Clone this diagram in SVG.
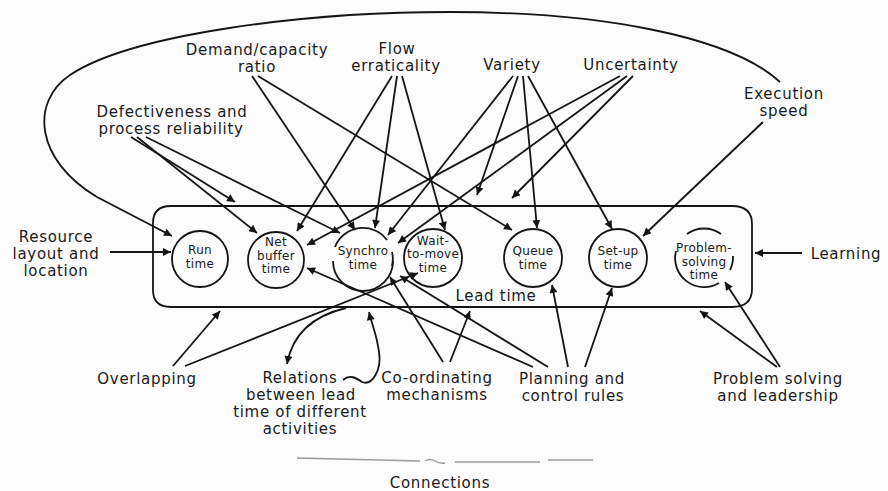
<svg xmlns="http://www.w3.org/2000/svg" width="888" height="491" viewBox="0 0 888 491">
  <defs>
    <marker id="ah" viewBox="0 0 10 10" refX="10" refY="5" markerWidth="9" markerHeight="8" markerUnits="userSpaceOnUse" orient="auto">
      <path d="M0,0 L10,5 L0,10 z" fill="#151515"/>
    </marker>
    <style>
      .lbl { font-family: "DejaVu Sans", "Liberation Sans", sans-serif; font-size: 15px; letter-spacing: 0.7px; fill: #1a1a1a; text-anchor: middle; }
      .sm { font-family: "DejaVu Sans", "Liberation Sans", sans-serif; font-size: 12px; letter-spacing: 0.3px; fill: #1a1a1a; text-anchor: middle; }
      .ring { fill: none; stroke: #151515; stroke-width: 1.8; }
      .edge { fill: none; stroke: #151515; stroke-width: 1.8; marker-end: url(#ah); }
    </style>
  </defs>
  <rect width="888" height="491" fill="#fcfcfc"/>

  <!-- lead time container -->
  <g id="lead-time">
    <path class="ring" d="M171,206 L732,206 Q752,206 752,224 L752,289 Q752,307 732,307 L171,307 Q153,307 153,290 L153,223 Q153,206 171,206 Z"/>
    <text class="lbl" x="496" y="301">Lead time</text>
  </g>

  <!-- time components -->
  <g id="run-time">
    <circle class="ring" cx="200" cy="259" r="28"/>
    <text class="sm" x="200" y="254">Run</text>
    <text class="sm" x="200" y="268">time</text>
  </g>
  <g id="net-buffer-time">
    <circle class="ring" cx="276" cy="260" r="28"/>
    <text class="sm" x="276" y="246">Net</text>
    <text class="sm" x="276" y="259.5">buffer</text>
    <text class="sm" x="276" y="273">time</text>
  </g>
  <g id="synchro-time">
    <path class="ring" d="M393,261 A30,30 0 0 1 333,261"/>
    <path class="ring" d="M335,247 A30,30 0 0 1 387,240"/>
    <path class="ring" d="M392,252 A30,30 0 0 1 392,266"/>
    <text class="sm" x="363" y="255">Synchro</text>
    <text class="sm" x="363" y="269">time</text>
  </g>
  <g id="wait-to-move-time">
    <circle class="ring" cx="433" cy="258" r="29"/>
    <text class="sm" x="433" y="244.5">Wait-</text>
    <text class="sm" x="433" y="258">to-move</text>
    <text class="sm" x="433" y="271.5">time</text>
  </g>
  <g id="queue-time">
    <circle class="ring" cx="533" cy="258" r="29"/>
    <text class="sm" x="533" y="255">Queue</text>
    <text class="sm" x="533" y="269">time</text>
  </g>
  <g id="set-up-time">
    <circle class="ring" cx="618" cy="258" r="29"/>
    <text class="sm" x="618" y="255">Set-up</text>
    <text class="sm" x="618" y="269">time</text>
  </g>
  <g id="problem-solving-time">
    <path class="ring" d="M687,234 A29,29 0 0 1 721,234"/>
    <path class="ring" d="M676,251 A29,29 0 0 0 719,283"/>
    <path class="ring" d="M733,256 A29,29 0 0 1 730,270"/>
    <text class="sm" x="704" y="252">Problem-</text>
    <text class="sm" x="704" y="265.5">solving</text>
    <text class="sm" x="704" y="279">time</text>
  </g>

  <!-- factors -->
  <g id="demand-capacity">
    <text class="lbl" x="257" y="55">Demand/capacity</text>
    <text class="lbl" x="257" y="72">ratio</text>
  </g>
  <g id="flow-erraticality">
    <text class="lbl" x="397" y="54">Flow</text>
    <text class="lbl" x="396" y="71">erraticality</text>
  </g>
  <g id="variety">
    <text class="lbl" x="512" y="70">Variety</text>
  </g>
  <g id="uncertainty">
    <text class="lbl" x="631" y="70">Uncertainty</text>
  </g>
  <g id="execution-speed">
    <text class="lbl" x="784" y="99">Execution</text>
    <text class="lbl" x="784" y="116">speed</text>
  </g>
  <g id="defectiveness">
    <text class="lbl" x="172" y="117">Defectiveness and</text>
    <text class="lbl" x="171" y="134">process reliability</text>
  </g>
  <g id="resource-layout">
    <text class="lbl" x="56" y="242">Resource</text>
    <text class="lbl" x="56" y="259">layout and</text>
    <text class="lbl" x="56" y="276">location</text>
  </g>
  <g id="learning">
    <text class="lbl" x="846" y="259">Learning</text>
  </g>
  <g id="overlapping">
    <text class="lbl" x="147" y="384">Overlapping</text>
  </g>
  <g id="relations">
    <text class="lbl" x="300" y="383">Relations</text>
    <text class="lbl" x="301" y="400">between lead</text>
    <text class="lbl" x="300" y="417">time of different</text>
    <text class="lbl" x="300" y="434">activities</text>
  </g>
  <g id="co-ordinating">
    <text class="lbl" x="437" y="383">Co-ordinating</text>
    <text class="lbl" x="437" y="400">mechanisms</text>
  </g>
  <g id="planning-control">
    <text class="lbl" x="572" y="384">Planning and</text>
    <text class="lbl" x="573" y="401">control rules</text>
  </g>
  <g id="problem-solving">
    <text class="lbl" x="778" y="384">Problem solving</text>
    <text class="lbl" x="778" y="401">and leadership</text>
  </g>

  <!-- connectors -->
  <g id="connectors">
    <!-- execution speed loop to run time -->
    <path class="edge" d="M780,82 C730,36 600,12 450,12 C300,12 130,35 70,75 C30,102 35,160 97,197 L172,236"/>
    <line class="edge" x1="763" y1="122" x2="643" y2="236"/>
    <!-- defectiveness -->
    <line class="edge" x1="131" y1="137" x2="235" y2="202"/>
    <line class="edge" x1="137" y1="137" x2="257" y2="233"/>
    <line class="edge" x1="146" y1="137" x2="340" y2="233"/>
    <!-- demand/capacity -->
    <line class="edge" x1="252" y1="76" x2="355" y2="230"/>
    <line class="edge" x1="258" y1="76" x2="512" y2="230"/>
    <!-- flow erraticality -->
    <line class="edge" x1="392" y1="76" x2="297" y2="231"/>
    <line class="edge" x1="397" y1="76" x2="375" y2="228"/>
    <line class="edge" x1="402" y1="76" x2="445" y2="230"/>
    <!-- variety -->
    <line class="edge" x1="513" y1="76" x2="388" y2="235"/>
    <line class="edge" x1="518" y1="76" x2="477" y2="195"/>
    <line class="edge" x1="523" y1="76" x2="537" y2="228"/>
    <line class="edge" x1="528" y1="76" x2="612" y2="229"/>
    <!-- uncertainty -->
    <line class="edge" x1="620" y1="76" x2="307" y2="245"/>
    <line class="edge" x1="627" y1="76" x2="398" y2="243"/>
    <line class="edge" x1="633" y1="76" x2="512" y2="198"/>
    <!-- side inputs -->
    <line class="edge" x1="110" y1="252" x2="171" y2="252"/>
    <line class="edge" x1="802" y1="253" x2="755" y2="253"/>
    <!-- overlapping -->
    <line class="edge" x1="173" y1="366" x2="220" y2="311"/>
    <line class="edge" x1="185" y1="366" x2="418" y2="273"/>
    <!-- relations between lead times -->
    <path class="edge" d="M346,308 Q295,320 287,364"/>
    <path class="edge" d="M343,380 C350,374 356,378 362,382 C372,386 382,370 379,352 C377,335 372,325 369,312"/>
    <!-- co-ordinating mechanisms -->
    <line class="edge" x1="443" y1="362" x2="390" y2="277"/>
    <line class="edge" x1="450" y1="362" x2="470" y2="311"/>
    <!-- planning and control rules -->
    <line class="edge" x1="533" y1="367" x2="307" y2="268"/>
    <line class="edge" x1="548" y1="367" x2="400" y2="276"/>
    <line class="edge" x1="568" y1="367" x2="552" y2="285"/>
    <line class="edge" x1="585" y1="367" x2="612" y2="288"/>
    <!-- problem solving and leadership -->
    <line class="edge" x1="777" y1="367" x2="700" y2="311"/>
    <line class="edge" x1="780" y1="367" x2="725" y2="282"/>
  </g>

  <!-- caption -->
  <g id="caption">
    <path d="M297,458 L420,461 M425,461 q5,-3 10,0 t10,2 M455,462 L540,462 M548,460 L593,460" fill="none" stroke="#9a9a9a" stroke-width="1.3"/>
    <text class="lbl" x="440" y="488">Connections</text>
  </g>
</svg>
